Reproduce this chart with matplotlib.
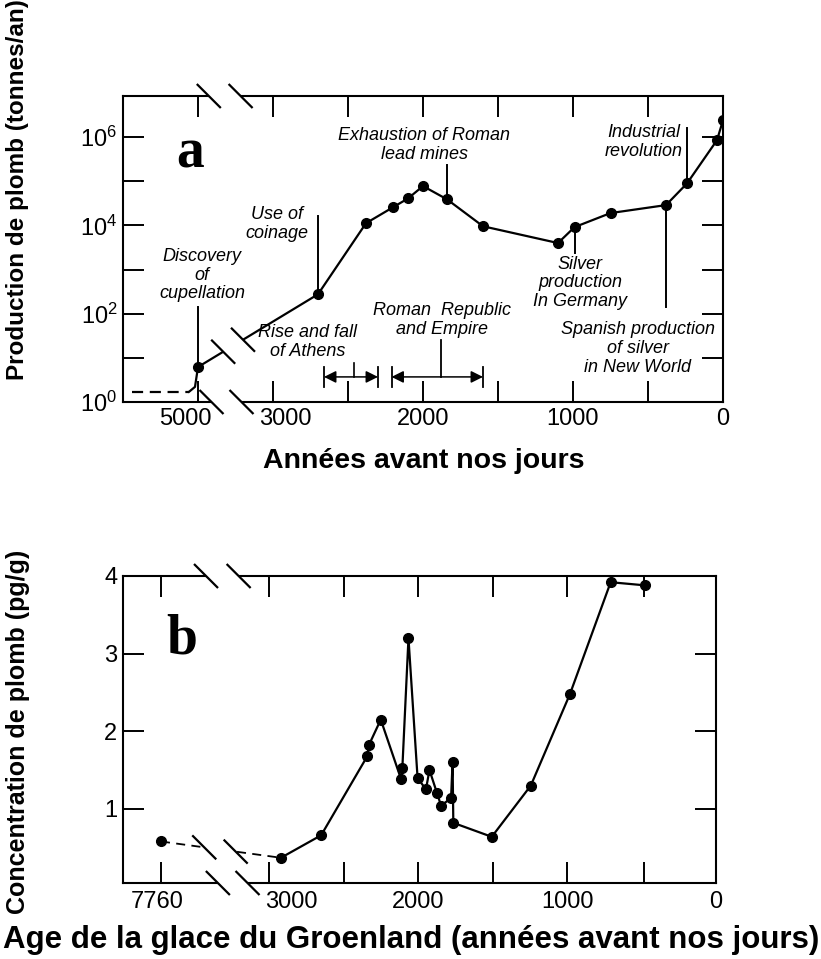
import numpy as np
import matplotlib
matplotlib.use("Agg")
import matplotlib.pyplot as plt
from matplotlib.patches import Polygon
from matplotlib.ticker import FixedLocator, NullFormatter
import matplotlib.transforms as mtransforms

plt.rcParams['font.family'] = ['Liberation Sans', 'DejaVu Sans']
plt.rcParams['mathtext.fontset'] = 'custom'
plt.rcParams['mathtext.rm'] = 'Liberation Sans'
plt.rcParams['mathtext.it'] = 'Liberation Sans:italic'
plt.rcParams['mathtext.bf'] = 'Liberation Sans:bold'

# ---------------- data: panel a (lead production, tonnes/yr) ----------------
years_a = [5000, 2700, 2380, 2200, 2100, 2000, 1840, 1600, 1100, 990, 750, 380, 240, 40, 0]
prod_a = [6.2, 275, 11200, 25700, 40700, 77600, 38900, 9550, 3980, 9120, 19000, 28800, 89100, 851000, 2400000]
leadin_dash_years = [5440, 5060]
leadin_dash_prod = [1.7, 1.7]
leadin_solid_years = [5060, 5020, 5000]
leadin_solid_prod = [1.7, 2.2, 6.2]

xticks_a = [5000, 3000, 2500, 2000, 1500, 1000, 500, 0]
xticklabels_a = ['5000', '3000', '', '2000', '', '1000', '', '0']
yticks_a = [1, 1e2, 1e4, 1e6]
yticklabels_a = [r'$10^{0}$', r'$10^{2}$', r'$10^{4}$', r'$10^{6}$']
yminor_a = [1e1, 1e3, 1e5]

# events (year, value at the curve, value at label end)
events_a = {
    'Discovery\nof\ncupellation': (5000, 6.2, 141),
    'Use of\ncoinage': (2700, 275, 16200),
    'Exhaustion of Roman\nlead mines': (1840, 38900, 229000),
    'Industrial\nrevolution': (240, 89100, 1.58e6),
    'Silver\nproduction\nIn Germany': (990, 9120, 2340),
    'Spanish production\nof silver\nin New World': (380, 28800, 141),
}
athens_period = (2660, 2300)
roman_period = (2210, 1600)

# ---------------- data: panel b (Greenland ice lead, pg/g) ----------------
years_b = [7760, 2920, 2650, 2340, 2330, 2250, 2115, 2105, 2064, 2003, 1947, 1923,
           1872, 1845, 1778, 1768, 1763, 1505, 1243, 980, 707, 479]
conc_b = [0.58, 0.37, 0.66, 1.68, 1.82, 2.15, 1.39, 1.53, 3.2, 1.4, 1.25, 1.5,
          1.2, 1.04, 1.14, 1.61, 0.82, 0.64, 1.3, 2.48, 3.92, 3.88]
xticks_b = [7760, 3000, 2500, 2000, 1500, 1000, 480, 0]
xticklabels_b = ['7760', '3000', '', '2000', '', '1000', '', '0']
yticks_b = [1, 2, 3, 4]
yticklabels_b = ['1', '2', '3', '4']


def broken_scale(c0, c1, k):
    """identity below c0, compress [c0, c1] by k, shift above c1"""
    u1 = c0 + (c1 - c0) * k

    def fwd(x):
        x = np.asarray(x, float)
        return np.where(x <= c0, x, np.where(x <= c1, c0 + (x - c0) * k, u1 + (x - c1)))

    def inv(u):
        u = np.asarray(u, float)
        return np.where(u <= c0, u, np.where(u <= u1, c0 + (u - c0) / k, c1 + (u - u1)))
    return fwd, inv


fig = plt.figure(figsize=(8.21, 9.59), dpi=100)
axa = fig.add_axes([123 / 821, 1 - 402 / 959, 600 / 821, 306 / 959])
axb = fig.add_axes([123 / 821, 1 - 883 / 959, 593 / 821, 307 / 959])

LW = 1.6
MS = 7


def style_axes(ax):
    for s in ax.spines.values():
        s.set_linewidth(1.5)
        s.set_color('black')
    ax.tick_params(which='both', direction='in', length=15, width=1.4,
                   top=True, right=True, labelsize=17, colors='black')
    ax.tick_params(axis='x', pad=4)
    ax.tick_params(axis='y', pad=4)


def add_break(ax, xs, ys, half_px=12, lw=1.6):
    bb = ax.get_position()
    W = bb.width * fig.get_figwidth() * fig.dpi
    H = bb.height * fig.get_figheight() * fig.dpi
    dx = half_px / W
    dy = half_px / H
    (x1, x2), (y1, y2) = xs, ys
    poly = Polygon([(x1 - dx, y1 + dy), (x2 - dx, y2 + dy), (x2 + dx, y2 - dy), (x1 + dx, y1 - dy)],
                   closed=True, transform=ax.transAxes, facecolor='white', edgecolor='none',
                   clip_on=False, zorder=5)
    ax.add_patch(poly)
    for x, y in zip(xs, ys):
        ax.plot([x - dx, x + dx], [y + dy, y - dy], transform=ax.transAxes, color='black',
                lw=lw, clip_on=False, zorder=6, solid_capstyle='butt')


def line_y_at(ax, xd, yd, xfrac):
    pts = (ax.transData + ax.transAxes.inverted()).transform(np.column_stack([xd, yd]))
    return float(np.interp(xfrac, pts[:, 0], pts[:, 1]))


def shift_label(ax, idx, dx_px):
    lab = ax.get_xticklabels()[idx]
    off = mtransforms.ScaledTranslation(dx_px / fig.dpi, 0, fig.dpi_scale_trans)
    lab.set_transform(lab.get_transform() + off)

# ---------------- panel a ----------------
fa, ia = broken_scale(3000, 5000, 0.25)
axa.set_xscale('function', functions=(fa, ia))
axa.set_yscale('log')
axa.set_xlim(5500, 0)
axa.set_ylim(1, 10 ** 6.93)
style_axes(axa)
axa.xaxis.set_major_locator(FixedLocator(xticks_a))
axa.set_xticklabels(xticklabels_a)
axa.yaxis.set_major_locator(FixedLocator(yticks_a))
axa.set_yticklabels(yticklabels_a)
axa.yaxis.set_minor_locator(FixedLocator(yminor_a))
axa.yaxis.set_minor_formatter(NullFormatter())
axa.xaxis.set_minor_locator(FixedLocator([]))

axa.plot(leadin_dash_years, leadin_dash_prod, color='black', lw=LW, ls=(0, (5, 3)))
axa.plot(leadin_solid_years, leadin_solid_prod, color='black', lw=LW)
axa.plot(years_a, prod_a, color='black', lw=LW, marker='o', ms=MS, zorder=4)

for label, (yr, v0, v1) in events_a.items():
    axa.plot([yr, yr], [v0, v1], color='black', lw=1.4, zorder=3)

ANN = dict(ha='center', va='center', fontsize=13, style='italic', linespacing=1.15)
text_pos_a = {
    'Discovery\nof\ncupellation': (0.132, 0.415),
    'Use of\ncoinage': (0.257, 0.582),
    'Exhaustion of Roman\nlead mines': (0.502, 0.840),
    'Industrial\nrevolution': (0.868, 0.850),
    'Silver\nproduction\nIn Germany': (0.762, 0.389),
    'Spanish production\nof silver\nin New World': (0.858, 0.176),
}
for label, (tx, ty) in text_pos_a.items():
    axa.text(tx, ty, label, transform=axa.transAxes, **ANN)
axa.text(0.308, 0.196, 'Rise and fall\nof Athens', transform=axa.transAxes, **ANN)
axa.text(0.532, 0.268, 'Roman  Republic\nand Empire', transform=axa.transAxes, **ANN)

arrow_y = 3.7
for (s, e) in (athens_period, roman_period):
    axa.annotate('', xy=(e, arrow_y), xytext=(s, arrow_y),
                 arrowprops=dict(arrowstyle='<|-|>', color='black', lw=1.1,
                                 mutation_scale=18, shrinkA=0, shrinkB=0))
    for x in (s, e):
        axa.plot([x, x], [2.2, 6.2], color='black', lw=1.3)
axa.plot([2460, 2460], [arrow_y, 7.6], color='black', lw=1.2)
axa.plot([1880, 1880], [arrow_y, 25], color='black', lw=1.3)

axa.text(0.112, 0.765, 'a', transform=axa.transAxes, ha='center', va='baseline',
         fontsize=40, weight='bold', family='Liberation Serif')

# break marks panel a
add_break(axa, (0.143, 0.196), (1.0, 1.0))
add_break(axa, (0.1475, 0.1975), (0.0, 0.0))
seg_x = [years_a[0], years_a[1]]
seg_y = [prod_a[0], prod_a[1]]
xb1, xb2 = 0.167, 0.200
add_break(axa, (xb1, xb2), (line_y_at(axa, seg_x, seg_y, xb1), line_y_at(axa, seg_x, seg_y, xb2)))

shift_label(axa, 0, -13)
shift_label(axa, 1, 12)

# ---------------- panel b ----------------
fb, ib = broken_scale(3000, 7760, 725 / 4760)
axb.set_xscale('function', functions=(fb, ib))
axb.set_xlim(8015, 0)
axb.set_ylim(0.045, 4.0)
style_axes(axb)
axb.xaxis.set_major_locator(FixedLocator(xticks_b))
axb.set_xticklabels(xticklabels_b)
axb.xaxis.set_minor_locator(FixedLocator([]))
axb.yaxis.set_major_locator(FixedLocator(yticks_b))
axb.set_yticklabels(yticklabels_b)
axb.tick_params(axis='x', pad=6)

axb.plot(years_b[:2], conc_b[:2], color='black', lw=1.3, ls=(0, (5, 3.5)))
axb.plot(years_b[1:], conc_b[1:], color='black', lw=LW)
axb.plot(years_b, conc_b, ls='none', marker='o', ms=MS, color='black', zorder=4)

axb.text(0.0995, 0.749, 'b', transform=axb.transAxes, ha='center', va='baseline',
         fontsize=40, weight='bold', family='Liberation Serif')

add_break(axb, (0.14, 0.195), (1.0, 1.0))
add_break(axb, (0.16, 0.21), (0.0, 0.0))
sx = years_b[:2]
sy = conc_b[:2]
add_break(axb, (0.137, 0.19), (line_y_at(axb, sx, sy, 0.137), line_y_at(axb, sx, sy, 0.19)))

shift_label(axb, 0, -4)
shift_label(axb, 1, 22)

# ---------------- axis titles ----------------
fig.text(18 / 821, 1 - 190 / 959, 'Production de plomb (tonnes/an)', rotation=90,
         ha='center', va='center', fontsize=17.5, weight='bold')
fig.text(424 / 821, 1 - 461 / 959, 'Années avant nos jours', ha='center', va='center',
         fontsize=20.5, weight='bold')
fig.text(18 / 821, 1 - 732 / 959, 'Concentration de plomb (pg/g)', rotation=90,
         ha='center', va='center', fontsize=18, weight='bold')
fig.text(411 / 821, 1 - 940 / 959, 'Age de la glace du Groenland (années avant nos jours)',
         ha='center', va='center', fontsize=22.5, weight='bold')

fig.savefig('out.png', dpi=100, facecolor='white')
